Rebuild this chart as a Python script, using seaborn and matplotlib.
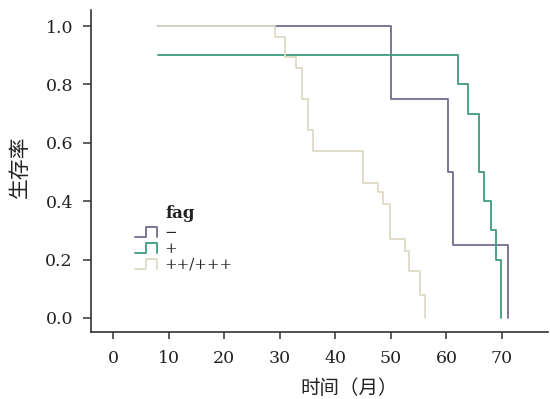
import pandas as pd
import matplotlib
matplotlib.use("Agg")
import matplotlib.pyplot as plt
import seaborn as sns
from matplotlib.lines import Line2D
from matplotlib.legend_handler import HandlerBase

# Kaplan-Meier steps (time in months, survival)
t_neg = [8, 50, 60.2, 61.2, 71]
s_neg = [1.0, 0.75, 0.5, 0.25, 0.0]

t_pos = [8, 62, 63.8, 65.8, 66.7, 68.0, 68.9, 69.8]
s_pos = [0.9, 0.8, 0.7, 0.5, 0.4, 0.3, 0.2, 0.0]

t_high = [8, 29.1, 30.9, 32.9, 34.0, 35.0, 36.0, 45.0, 47.7, 48.6, 49.8,
          52.5, 53.3, 55.2, 56.2]
s_high = [1.0, 0.964, 0.893, 0.857, 0.75, 0.643, 0.571, 0.464, 0.43, 0.39,
          0.27, 0.23, 0.16, 0.08, 0.0]

groups = ["−", "+", "++/+++"]
colors = ["#6e6e8e", "#3f9a80", "#dedac6"]

df = pd.concat([
    pd.DataFrame({"time": t_neg, "surv": s_neg, "fag": groups[0]}),
    pd.DataFrame({"time": t_pos, "surv": s_pos, "fag": groups[1]}),
    pd.DataFrame({"time": t_high, "surv": s_high, "fag": groups[2]}),
])

sns.set_style("ticks")
plt.rcParams['font.family'] = ['DejaVu Serif', 'Noto Sans CJK SC']

fig = plt.figure(figsize=(5.5, 3.99), dpi=100)
ax = fig.add_axes([0.1655, 0.168, 0.83, 0.807])

sns.lineplot(data=df, x="time", y="surv", hue="fag", hue_order=groups,
             palette=colors, estimator=None, drawstyle="steps-post",
             linewidth=1.3, legend=False, ax=ax)

ax.set_xlim(-4, 78.2)
ax.set_ylim(-0.048, 1.055)
ax.set_xticks(range(0, 71, 10))
ax.set_yticks([0.0, 0.2, 0.4, 0.6, 0.8, 1.0])
ax.set_yticklabels(["0.0", "0.2", "0.4", "0.6", "0.8", "1.0"])
ax.tick_params(labelsize=12.5, width=1.1, colors="#333333",
               labelcolor="#222222")
ax.tick_params(axis="y", length=6, pad=7)
ax.tick_params(axis="x", length=5, pad=8)
for sp in ["left", "bottom"]:
    ax.spines[sp].set_linewidth(1.2)
    ax.spines[sp].set_color("#333333")
sns.despine(ax=ax)

ax.set_xlabel("时间（月）", fontsize=14, family=['Noto Sans CJK SC'],
              color="#222222")
ax.xaxis.set_label_coords(0.566, -0.143)
ax.set_ylabel("生存率", fontsize=15, family=['Noto Sans CJK SC'],
              color="#222222")
ax.yaxis.set_label_coords(-0.131, 0.512)


# step-shaped legend icon
class StepHandler(HandlerBase):
    def create_artists(self, legend, orig_handle, xdescent, ydescent,
                       width, height, fontsize, trans):
        xs = [0, 0.5, 0.5, 1.0, 1.0]
        ys = [0.0, 0.0, 0.9, 0.9, 0.0]
        line = Line2D([-xdescent + x * width for x in xs],
                      [-ydescent + y * height for y in ys],
                      color=orig_handle.get_color(), linewidth=1.3,
                      transform=trans)
        return [line]


handles = [Line2D([], [], color=c) for c in colors]
leg = ax.legend(handles, groups, loc="upper left",
                bbox_to_anchor=(135 / 550, 1 - 226 / 399),
                bbox_transform=fig.transFigure, frameon=False, fontsize=10.8,
                handler_map={Line2D: StepHandler()}, handlelength=1.45,
                handleheight=0.75, handletextpad=0.5, labelspacing=0.12,
                borderpad=0, borderaxespad=0)
fig.text(165 / 550, 1 - 213 / 399, "fag", fontsize=12, fontweight="bold",
         va="center", ha="left", color="#222222")

fig.savefig("out.png", dpi=100, facecolor="white")
